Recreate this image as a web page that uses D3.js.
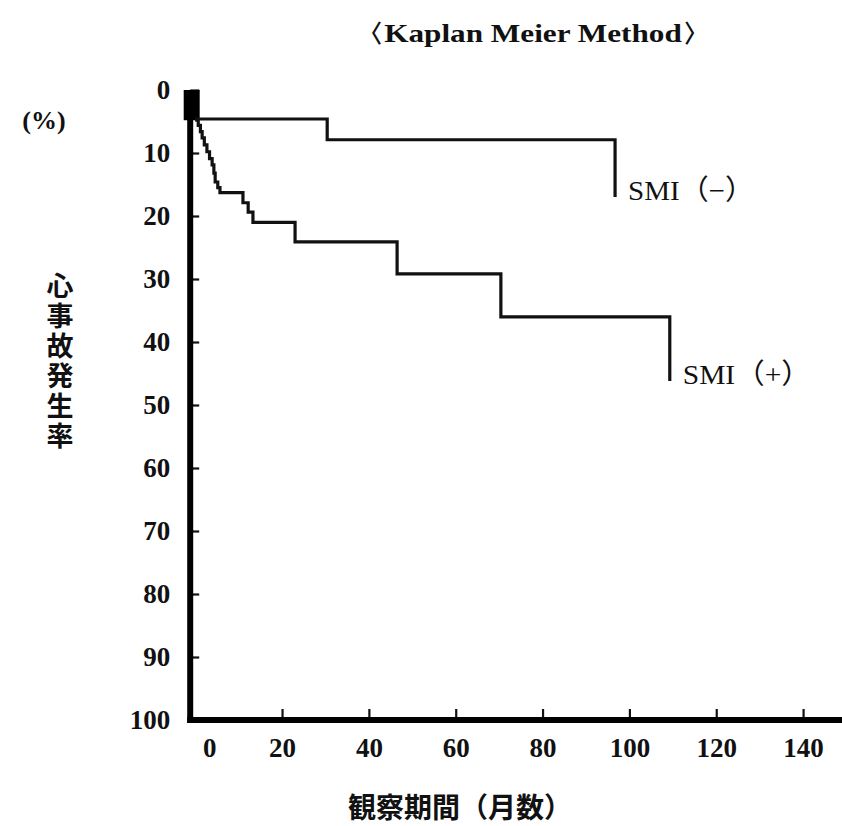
<!DOCTYPE html>
<html>
<head>
<meta charset="utf-8">
<script src="https://cdn.jsdelivr.net/npm/d3@7"></script>
<style>
  html, body { margin: 0; padding: 0; background: #fff; }
  svg { display: block; }
</style>
</head>
<body>
<svg id="chart" width="842" height="826"></svg>
<script>
// ---- data ----
const title = "〈Kaplan Meier Method〉";
const yTitle = "心事故発生率";
const yUnit = "(%)";
const xTitle = "観察期間（月数）";
const yTicks = [0, 10, 20, 30, 40, 50, 60, 70, 80, 90, 100];
const xTicks = [0, 20, 40, 60, 80, 100, 120, 140];

const seriesNames = ["SMI（−）", "SMI（+）"];
// SMI(−): months at which each step starts, cumulative cardiac event rate (%)
const monthsNeg = [0, 30.4, 96.7];
const rateNeg   = [4.6, 7.9, 17.0];
// SMI(+)
const monthsPos = [0, 0.7, 1.2, 1.6, 2.1, 2.7, 3.3, 3.9, 4.3, 4.6, 5.2, 5.7, 11.0, 12.2, 13.3, 23.0, 46.5, 70.4, 109.3];
const ratePos   = [4.8, 5.6, 6.6, 7.6, 8.7, 9.8, 10.9, 11.9, 13.2, 14.6, 15.5, 16.3, 17.9, 19.4, 21.0, 24.1, 29.2, 36.0, 46.2];

// ---- drawing ----
const svg = d3.select("#chart");
const x = d3.scaleLinear().domain([0, 150]).range([195.2, 195.2 + 150 * 4.342]);
const y = d3.scaleLinear().domain([0, 100]).range([90, 720]);
const axisX = x(0) - 5;

const serif = "'Liberation Serif', 'Times New Roman', serif";
const cjk = "'Noto Sans CJK JP', 'Noto Sans CJK SC', sans-serif";

// Title
svg.append("text")
  .attr("x", 533).attr("y", 42)
  .attr("text-anchor", "middle")
  .attr("font-family", serif)
  .attr("font-weight", "bold")
  .attr("font-size", 25)
  .attr("textLength", 360).attr("lengthAdjust", "spacingAndGlyphs")
  .attr("fill", "#111")
  .text(title);

// Y axis (ticks inward)
const yAxis = d3.axisLeft(y).tickValues(yTicks).tickSize(-9).tickSizeOuter(0).tickPadding(20);
const gy = svg.append("g").attr("transform", `translate(${axisX},0)`).call(yAxis);
gy.select(".domain").remove();
gy.selectAll(".tick line").attr("stroke", "#111").attr("stroke-width", 2.2);
gy.selectAll(".tick text")
  .attr("font-family", serif).attr("font-weight", "bold").attr("font-size", 27)
  .attr("fill", "#111");

// X axis (ticks inward)
const xAxis = d3.axisBottom(x).tickValues(xTicks).tickSize(-11).tickSizeOuter(0).tickPadding(18);
const gx = svg.append("g").attr("transform", `translate(0,${y(100)})`).call(xAxis);
gx.select(".domain").remove();
gx.selectAll(".tick line").attr("stroke", "#111").attr("stroke-width", 2.2)
  .filter(d => d === 0).remove();
gx.selectAll(".tick text")
  .attr("font-family", serif).attr("font-weight", "bold").attr("font-size", 27)
  .attr("fill", "#111")
  .attr("dx", d => d === 0 ? 14 : 0);

// thick axis lines
svg.append("line")
  .attr("x1", axisX).attr("x2", axisX)
  .attr("y1", y(0)).attr("y2", y(100) + 3)
  .attr("stroke", "#000").attr("stroke-width", 6);
svg.append("line")
  .attr("x1", axisX - 3).attr("x2", x(150))
  .attr("y1", y(100)).attr("y2", y(100))
  .attr("stroke", "#000").attr("stroke-width", 6);

// heavy initial drop at time 0 (both curves overlap the axis there)
svg.append("line")
  .attr("x1", axisX + 1.5).attr("x2", axisX + 1.5)
  .attr("y1", y(0)).attr("y2", y(Math.max(rateNeg[0], ratePos[0])))
  .attr("stroke", "#000").attr("stroke-width", 16);

// Curves
const line = d3.line()
  .x(d => x(d.t)).y(d => y(d.v))
  .curve(d3.curveStepAfter);

const series = [
  { name: seriesNames[0], pts: monthsNeg.map((t, i) => ({ t, v: rateNeg[i] })), len: 126 },
  { name: seriesNames[1], pts: monthsPos.map((t, i) => ({ t, v: ratePos[i] })), len: 128 }
];

series.forEach(s => {
  svg.append("path")
    .datum(s.pts)
    .attr("d", line)
    .attr("fill", "none")
    .attr("stroke", "#111")
    .attr("stroke-width", 3.2)
    .attr("stroke-linejoin", "miter");
  const last = s.pts[s.pts.length - 1];
  svg.append("text")
    .attr("x", x(last.t) + 13)
    .attr("y", y(last.v) + 3)
    .attr("font-family", serif + ", " + cjk)
    .attr("font-size", 28)
    .attr("textLength", s.len).attr("lengthAdjust", "spacingAndGlyphs")
    .attr("fill", "#111")
    .text(s.name);
});

// Y unit
svg.append("text")
  .attr("x", 44).attr("y", 129)
  .attr("text-anchor", "middle")
  .attr("font-family", serif).attr("font-weight", "bold").attr("font-size", 26)
  .attr("fill", "#111")
  .text(yUnit);

// Y title (vertical writing)
svg.append("text")
  .attr("x", 60).attr("y", 362)
  .attr("text-anchor", "middle")
  .style("writing-mode", "vertical-rl")
  .style("letter-spacing", "3px")
  .attr("font-family", cjk).attr("font-weight", "bold").attr("font-size", 27)
  .attr("fill", "#111")
  .text(yTitle);

// X title
svg.append("text")
  .attr("x", 460).attr("y", 818)
  .attr("text-anchor", "middle")
  .attr("font-family", cjk).attr("font-weight", "bold").attr("font-size", 28)
  .attr("fill", "#111")
  .text(xTitle);
</script>
</body>
</html>
